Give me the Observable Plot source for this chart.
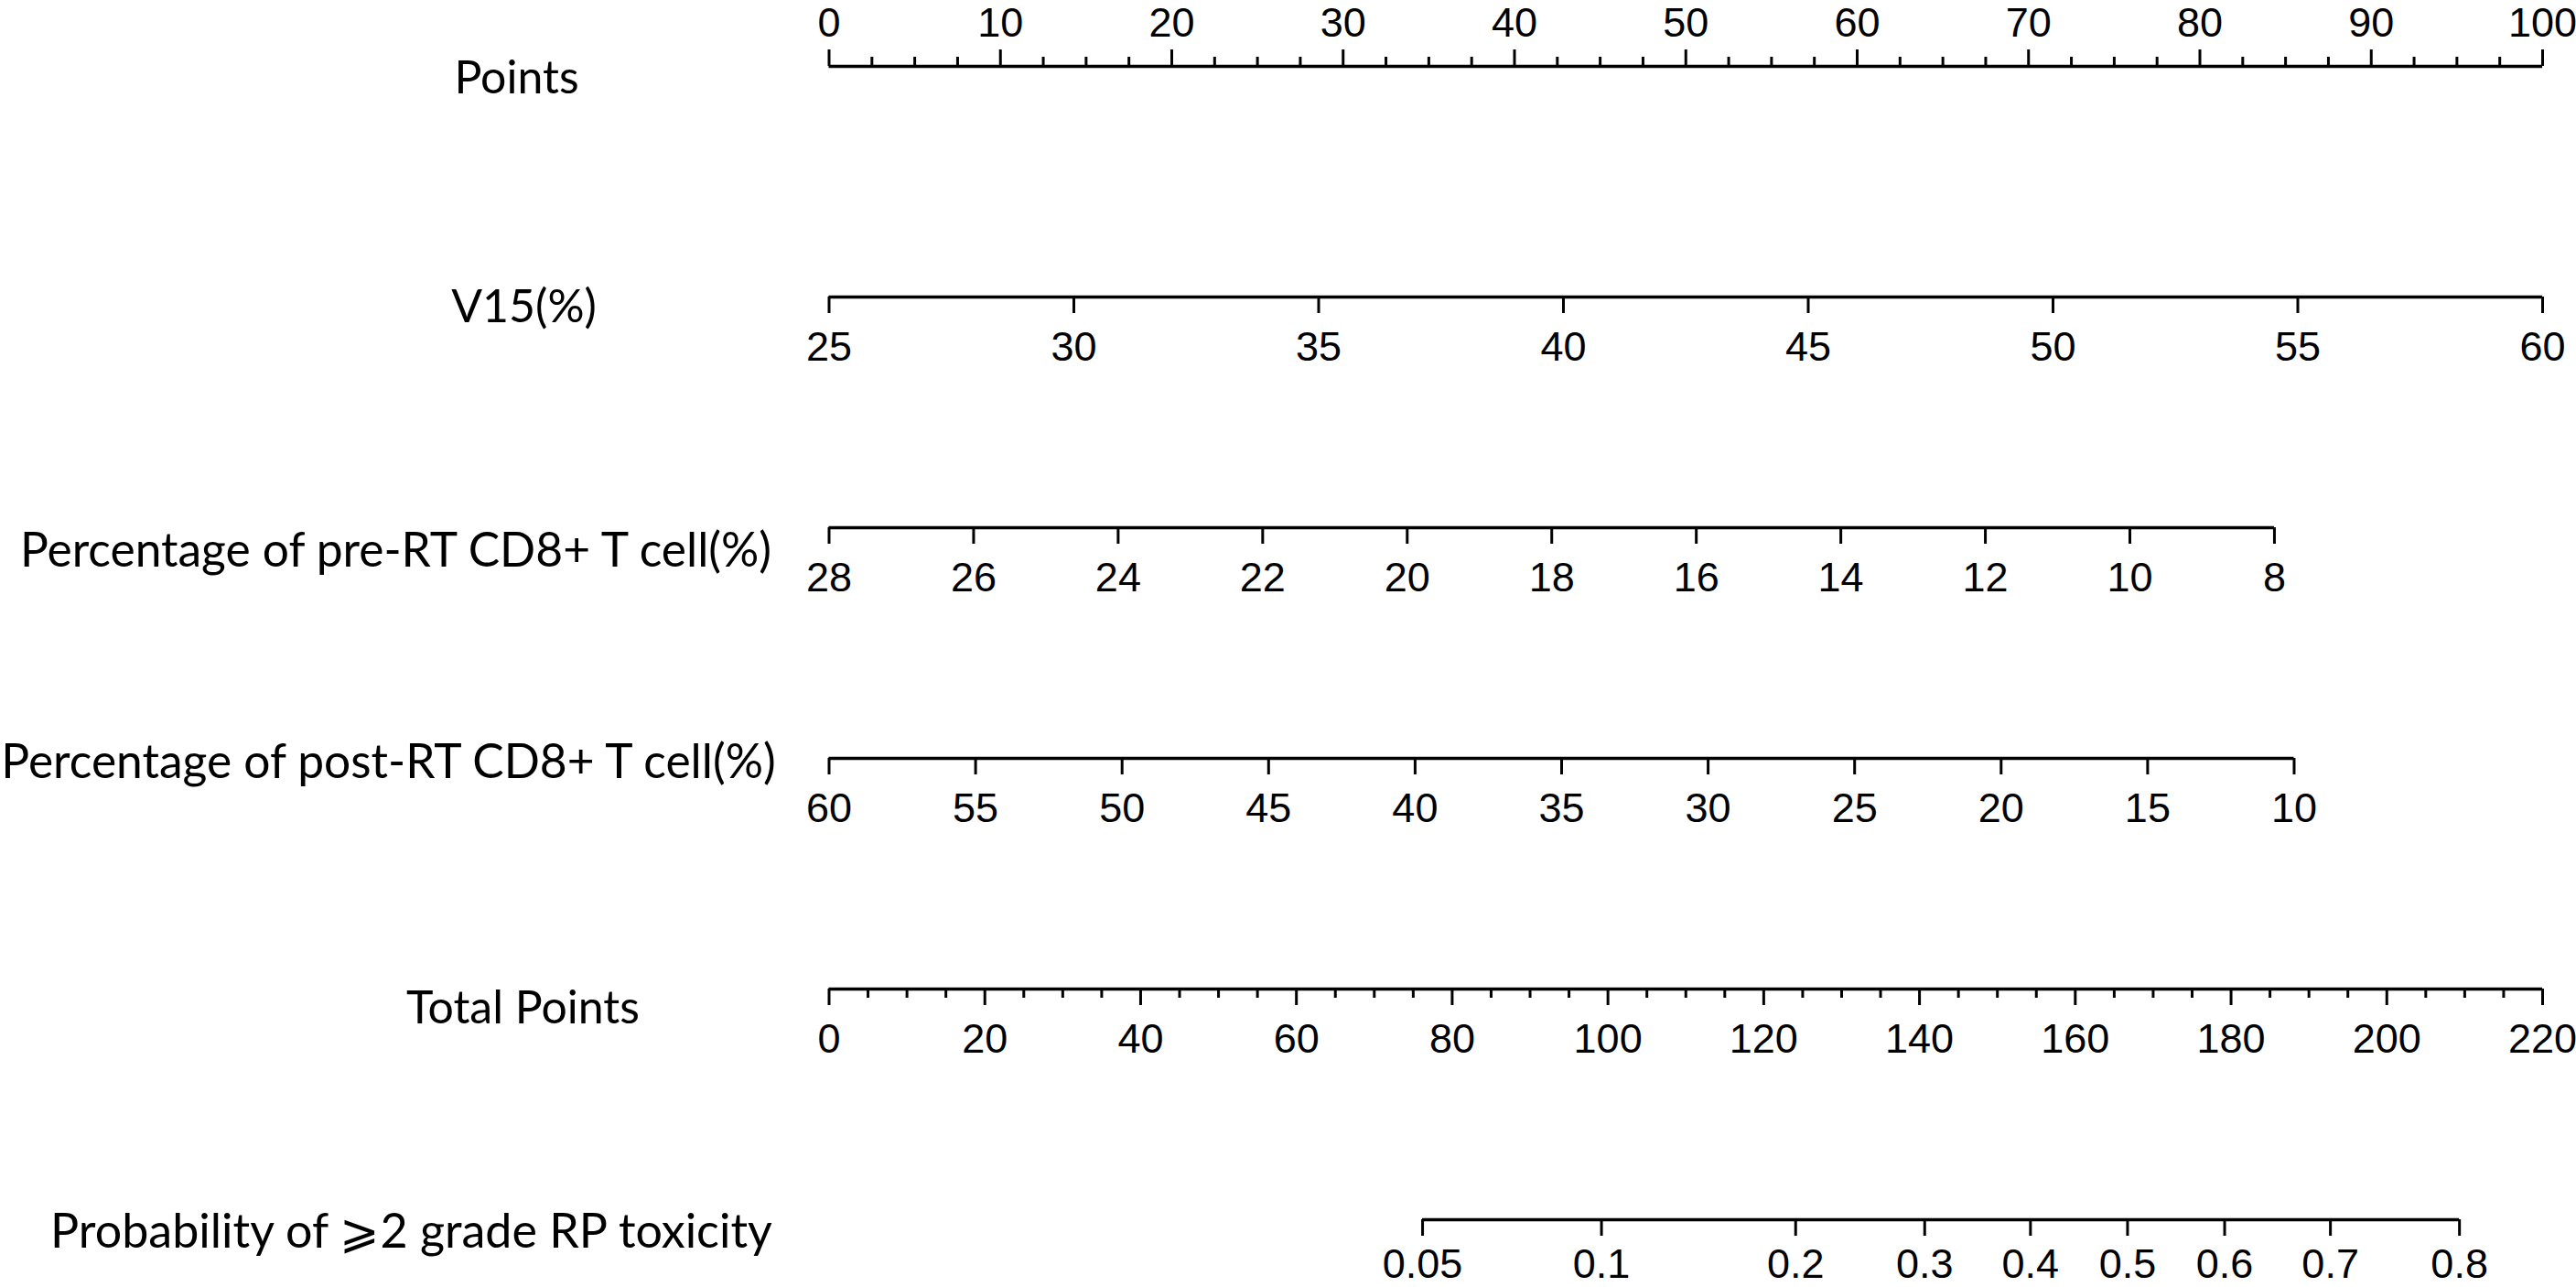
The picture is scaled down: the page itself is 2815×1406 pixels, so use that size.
<!DOCTYPE html>
<html>
<head>
<meta charset="utf-8">
<script src="https://cdn.jsdelivr.net/npm/d3@7"></script>
<script src="https://cdn.jsdelivr.net/npm/@observablehq/plot@0.6"></script>
<style>
  html, body { margin: 0; padding: 0; background: #ffffff; }
  #chart svg { display: block; }
</style>
</head>
<body>
<div id="chart"></div>
<script>
// ---------------- data ----------------
const rowNames = [
  "Points",
  "V15(%)",
  "Percentage of pre-RT CD8+ T cell(%)",
  "Percentage of post-RT CD8+ T cell(%)",
  "Total Points",
  "Probability of \u2A7E2 grade RP toxicity"
];
const pointsTicks = [0, 10, 20, 30, 40, 50, 60, 70, 80, 90, 100];
const v15Ticks = [25, 30, 35, 40, 45, 50, 55, 60];
const preTicks = [28, 26, 24, 22, 20, 18, 16, 14, 12, 10, 8];
const postTicks = [60, 55, 50, 45, 40, 35, 30, 25, 20, 15, 10];
const totalTicks = [0, 20, 40, 60, 80, 100, 120, 140, 160, 180, 200, 220];
const probTicks = [0.05, 0.1, 0.2, 0.3, 0.4, 0.5, 0.6, 0.7, 0.8];

// nomogram model: variable value -> points (0..100 scale)
const v15Range = [25, 60], v15Pts = [0, 100];
const preRange = [28, 8], prePts = [0, 84.35];
const postRange = [60, 10], postPts = [0, 85.5];
const totalMax = 220;
const probAnchor = {p: 0.05, total: 76.2}, totalPerLogit = 30.74;

// ---------------- layout ----------------
const W = 2815, H = 1406;
const xRange = [905.5, 2778];
const yRange = [72, 1332];
const pxPerRow = (yRange[1] - yRange[0]) / 5;
const majorLen = 18, minorLen = 10;
const labelGaps = [-47, 55, 55, 55, 55, 49];
const labelCenters = [564, 572, 432, 424, 571, 449];
const labelDy = [13, 11, 26, 5, 21, 14];
const labelSizes = [50, 50, 51.5, 51.5, 50, 52];
const tickFont = "Liberation Sans, Arial, sans-serif";
const labelFont = "Lato, 'Open Sans', sans-serif";

// ---------------- mapping ----------------
const lin = (d, r) => v => r[0] + (v - d[0]) / (d[1] - d[0]) * (r[1] - r[0]);
const logit = p => Math.log(p / (1 - p));
const v15ToPts = lin(v15Range, v15Pts);
const preToPts = lin(preRange, prePts);
const postToPts = lin(postRange, postPts);
const totalToX = t => t / totalMax * 100;
const probToX = p => totalToX(probAnchor.total + totalPerLogit * (logit(p) - logit(probAnchor.p)));

const rows = [
  {major: pointsTicks, f: v => v, dir: -1, minor: d3.range(0, 100.01, 2.5)},
  {major: v15Ticks, f: v15ToPts, dir: 1},
  {major: preTicks, f: preToPts, dir: 1},
  {major: postTicks, f: postToPts, dir: 1},
  {major: totalTicks, f: totalToX, dir: 1, minor: d3.range(0, 220.01, 5)},
  {major: probTicks, f: probToX, dir: 1}
];

const lines = [], ticks = [], labels = [];
rows.forEach((r, i) => {
  const xs = r.major.map(r.f);
  lines.push({row: i, x1: d3.min(xs), x2: d3.max(xs)});
  const majorSet = new Set(r.major);
  (r.minor || []).forEach(v => {
    if (!majorSet.has(v)) ticks.push({row: i, x: r.f(v), y2: i + r.dir * minorLen / pxPerRow});
  });
  r.major.forEach(v => {
    ticks.push({row: i, x: r.f(v), y2: i + r.dir * majorLen / pxPerRow});
    labels.push({row: i, x: r.f(v), text: String(v)});
  });
});

const tickLabelMarks = rows.map((r, i) => Plot.text(labels.filter(d => d.row === i), {
  x: "x", y: "row", text: "text", dy: labelGaps[i],
  fontSize: 45, fontFamily: tickFont, fill: "black"
}));

const rowLabelMarks = rowNames.map((name, i) => Plot.text([name], {
  frameAnchor: "left", dx: labelCenters[i], y: () => i, dy: labelDy[i],
  text: d => d, textAnchor: "middle", fontSize: labelSizes[i], fontFamily: labelFont, fill: "black"
}));

const chart = Plot.plot({
  width: W,
  height: H,
  margin: 0,
  x: {domain: [0, 100], range: xRange, axis: null},
  y: {domain: [0, 5], range: yRange, axis: null},
  style: {background: "white"},
  marks: [
    Plot.ruleY(lines, {y: "row", x1: "x1", x2: "x2", stroke: "black", strokeWidth: 3.5}),
    Plot.ruleX(ticks, {x: "x", y1: "row", y2: "y2", stroke: "black", strokeWidth: 3}),
    ...tickLabelMarks,
    ...rowLabelMarks
  ]
});
document.getElementById("chart").appendChild(chart);
</script>
</body>
</html>
